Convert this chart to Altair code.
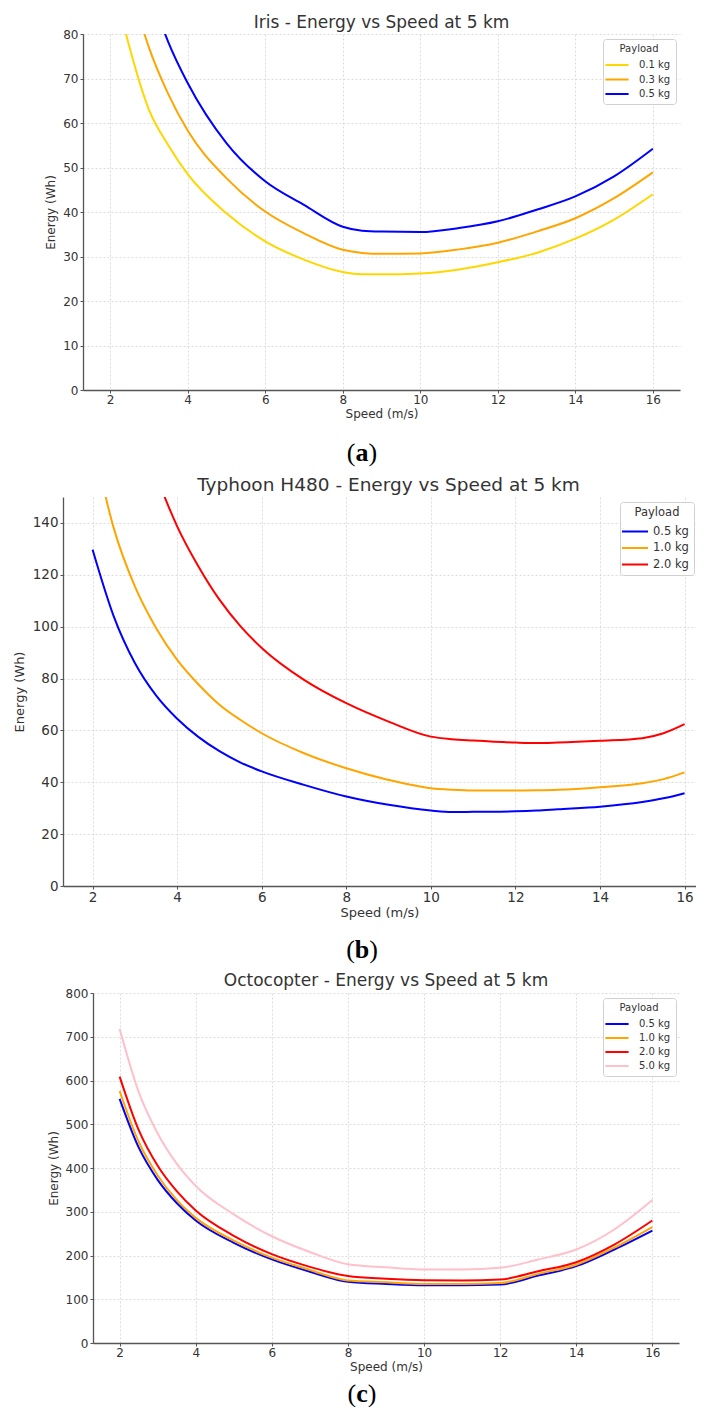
import altair as alt
import pandas as pd

FONT = "DejaVu Sans"
SERIF = "Liberation Serif"
TXT = "#333333"

# ---------------- data: (a) Iris ----------------
IRIS_TITLE = "Iris - Energy vs Speed at 5 km"
IRIS_PAYLOADS = ["0.1 kg", "0.3 kg", "0.5 kg"]
IRIS_COLORS = ["#FFD700", "#FFA500", "#0000FF"]
IRIS_SPEED = [2, 2.5, 3, 3.5, 4, 5, 6, 7, 8, 8.5, 9, 10, 11, 12, 13, 14, 15, 16]
IRIS_E_01 = [95, 77, 63, 55, 48.5, 39.7, 33.4, 29.3, 26.5, 26.0, 26.0, 26.2, 27.1, 28.7, 30.8, 34.0, 38.3, 44.0]
IRIS_E_03 = [115, 92, 77, 66.5, 58.3, 47.6, 40.1, 35.2, 31.5, 30.8, 30.6, 30.7, 31.6, 33.1, 35.6, 38.6, 43.1, 48.9]
IRIS_E_05 = [134, 108, 90.5, 78.2, 69.0, 55.5, 46.9, 41.6, 36.7, 35.8, 35.6, 35.5, 36.4, 37.9, 40.5, 43.5, 48.0, 54.2]
IRIS_YTICKS = [0, 10, 20, 30, 40, 50, 60, 70, 80]

# ---------------- data: (b) Typhoon H480 ----------------
TYP_TITLE = "Typhoon H480 - Energy vs Speed at 5 km"
TYP_PAYLOADS = ["0.5 kg", "1.0 kg", "2.0 kg"]
TYP_COLORS = ["#0000FF", "#FFA500", "#FF0000"]
TYP_SPEED = [2, 2.5, 3, 3.5, 4, 4.5, 5, 5.5, 6, 7, 8, 9, 10, 10.5, 11, 12, 12.5, 13, 14, 15, 15.5, 16]
TYP_E_05 = [129.7, 104, 86, 73.5, 64.5, 57.5, 52.0, 47.6, 44.2, 39.0, 34.5, 31.3, 29.1, 28.5, 28.6, 28.8, 29.1, 29.6, 30.6, 32.4, 33.8, 35.8]
TYP_E_10 = [172, 138, 115.5, 99.5, 87.2, 77.8, 69.9, 64.0, 58.9, 51.2, 45.4, 40.9, 37.7, 37.1, 36.8, 36.8, 36.9, 37.1, 38.1, 39.6, 41.2, 43.8]
TYP_E_20 = [279.5, 223, 185.7, 159, 138.7, 123.3, 110.4, 100.1, 91.8, 79.5, 70.5, 63.4, 57.6, 56.6, 56.1, 55.3, 55.1, 55.3, 56.0, 57.0, 58.9, 62.4]
TYP_YTICKS = [0, 20, 40, 60, 80, 100, 120, 140]

# ---------------- data: (c) Octocopter ----------------
OCTO_TITLE = "Octocopter - Energy vs Speed at 5 km"
OCTO_PAYLOADS = ["0.5 kg", "1.0 kg", "2.0 kg", "5.0 kg"]
OCTO_COLORS = ["#0000FF", "#FFA500", "#FF0000", "#FFC0CB"]
OCTO_SPEED = [2, 2.5, 3, 3.5, 4, 5, 6, 7, 8, 9, 10, 11, 12, 13, 14, 15, 16]
OCTO_E_05 = [558, 447, 373, 320, 280, 229, 191, 163, 140, 135, 132, 132, 133.6, 154, 175.6, 213.7, 257]
OCTO_E_10 = [576, 460, 383, 327, 286, 234, 195, 167, 143, 139, 135, 135, 137, 158, 179, 218, 265]
OCTO_E_20 = [609, 487, 405, 347, 303, 245, 203, 174, 153, 147, 143.5, 142.7, 145, 164, 184.7, 225, 280]
OCTO_E_50 = [718, 574, 479, 410, 359, 294, 244, 208, 180, 173, 168, 168, 171.8, 191, 213.7, 259.5, 326.7]
OCTO_YTICKS = [0, 100, 200, 300, 400, 500, 600, 700, 800]

XTICKS = [2, 4, 6, 8, 10, 12, 14, 16]
X_TITLE = "Speed (m/s)"
Y_TITLE = "Energy (Wh)"
LEGEND_TITLE = "Payload"

LEFT = 54  # common left extent reserved for y-axis labels/title


def long_frame(speed, payloads, series):
    rows = []
    for p, vals in zip(payloads, series):
        for s, v in zip(speed, vals):
            rows.append({"speed": s, "energy": v, "payload": p})
    return pd.DataFrame(rows)


def panel(df, payloads, colors, xdomain, ydomain, yticks, title, letter, W, H, shift, T, B,
          title_fs, tick_fs, axtitle_fs, ytitle_pad, leg):
    one = alt.Data(values=[{"k": 0}])
    common = dict(labelFont=FONT, labelFontSize=tick_fs, labelColor=TXT, titleFont=FONT,
                  titleFontSize=axtitle_fs, titleFontWeight="normal", titleColor=TXT,
                  tickSize=3, tickColor="#555555", domainColor="#555555", domainWidth=1.3,
                  gridColor="#d3d3d3", gridDash=[2, 2], gridWidth=0.8, labelFlush=False)
    xaxis = alt.Axis(values=XTICKS, title=X_TITLE, titlePadding=3, labelPadding=1, **common)
    yaxis = alt.Axis(values=yticks, title=Y_TITLE, titlePadding=ytitle_pad, labelPadding=2, **common)
    legend = alt.Legend(title=LEGEND_TITLE, orient="none", legendX=leg["x"], legendY=leg["y"],
                        symbolType="M-1.45,0H1.45", symbolSize=leg["size"],
                        symbolStrokeWidth=2, labelFont=FONT, labelFontSize=leg["fs"],
                        labelColor=TXT, titleFont=FONT, titleFontSize=leg["fs"],
                        titleFontWeight="normal", titleColor=TXT, titleAnchor="middle",
                        padding=5, rowPadding=leg["rowpad"], titlePadding=leg["tpad"],
                        labelOffset=leg["loff"], strokeColor="#d0d0d0", fillColor="white",
                        cornerRadius=3)
    lines = alt.Chart(df).mark_line(clip=True, strokeWidth=2, interpolate="monotone").encode(
        x=alt.X("speed:Q", scale=alt.Scale(domain=xdomain, nice=False, zero=False), axis=xaxis),
        y=alt.Y("energy:Q", scale=alt.Scale(domain=ydomain, nice=False), axis=yaxis),
        color=alt.Color("payload:N", scale=alt.Scale(domain=payloads, range=colors),
                        sort=payloads, legend=legend),
    )
    anchor = alt.Chart(one).mark_rule(stroke="white", strokeOpacity=0).encode(
        x=alt.value(-LEFT), y=alt.value(-T), y2=alt.value(H + B))
    ttl = alt.Chart(one).mark_text(font=FONT, fontSize=title_fs, color=TXT,
                                   baseline="middle", align="center").encode(
        x=alt.value(title["x"]), y=alt.value(title["y"]), text=alt.value(title["text"]))
    lx = letter["x"]
    ly = H + letter["dy"]
    lfs = 26
    lp = alt.Chart(one).mark_text(font=SERIF, fontSize=lfs, color="#000000",
                                  baseline="middle", align="center").encode(
        x=alt.value(lx - letter["gap"]), y=alt.value(ly), text=alt.value("("))
    lm = alt.Chart(one).mark_text(font=SERIF, fontSize=lfs, fontWeight="bold", color="#000000",
                                  baseline="middle", align="center").encode(
        x=alt.value(lx), y=alt.value(ly), text=alt.value(letter["text"]))
    rp = alt.Chart(one).mark_text(font=SERIF, fontSize=lfs, color="#000000",
                                  baseline="middle", align="center").encode(
        x=alt.value(lx + letter["gap"]), y=alt.value(ly), text=alt.value(")"))
    body = alt.layer(lines, anchor, ttl, lp, lm, rp).properties(width=W, height=H)
    spacer = alt.Chart(one).mark_rule(stroke="white", strokeOpacity=0).encode(
        x=alt.value(0), x2=alt.value(shift), y=alt.value(0)).properties(width=shift, height=1)
    return alt.hconcat(spacer, body, spacing=0)


df_a = long_frame(IRIS_SPEED, IRIS_PAYLOADS, [IRIS_E_01, IRIS_E_03, IRIS_E_05])
df_b = long_frame(TYP_SPEED, TYP_PAYLOADS, [TYP_E_05, TYP_E_10, TYP_E_20])
df_c = long_frame(OCTO_SPEED, OCTO_PAYLOADS, [OCTO_E_05, OCTO_E_10, OCTO_E_20, OCTO_E_50])

pa = panel(df_a, IRIS_PAYLOADS, IRIS_COLORS, [1.3, 16.7], [0, 80], IRIS_YTICKS,
           {"text": IRIS_TITLE, "x": 298.5, "y": -11},
           {"text": "a", "x": 279, "dy": 63, "gap": 10.8},
           W=597, H=356, shift=21, T=26, B=80, title_fs=17, tick_fs=12, axtitle_fs=12,
           ytitle_pad=5,
           leg={"x": 595, "y": 5, "size": 256, "fs": 10, "rowpad": 0.5, "tpad": 2, "loff": 13})
pb = panel(df_b, TYP_PAYLOADS, TYP_COLORS, [1.3, 16.27], [0, 150], TYP_YTICKS,
           {"text": TYP_TITLE, "x": 325.5, "y": -12},
           {"text": "b", "x": 299, "dy": 64, "gap": 11.5},
           W=633, H=389, shift=1, T=27, B=76, title_fs=18.5, tick_fs=13.5, axtitle_fs=13,
           ytitle_pad=6,
           leg={"x": 612, "y": 5, "size": 324, "fs": 11.5, "rowpad": 0.5, "tpad": 3, "loff": 8})
pc = panel(df_c, OCTO_PAYLOADS, OCTO_COLORS, [1.3, 16.7], [0, 800], OCTO_YTICKS,
           {"text": OCTO_TITLE, "x": 293, "y": -12},
           {"text": "c", "x": 269, "dy": 51, "gap": 10.2},
           W=586, H=350, shift=31, T=30, B=50, title_fs=17, tick_fs=12, axtitle_fs=12,
           ytitle_pad=5,
           leg={"x": 595, "y": 5, "size": 256, "fs": 10, "rowpad": -0.3, "tpad": 2, "loff": 13})

chart = alt.vconcat(pa, pb, pc, spacing=0).resolve_scale(
    color="independent").properties(padding=0, background="white").configure_view(strokeWidth=0)

chart.save("out.html", embed_options={"renderer": "svg", "actions": False})
